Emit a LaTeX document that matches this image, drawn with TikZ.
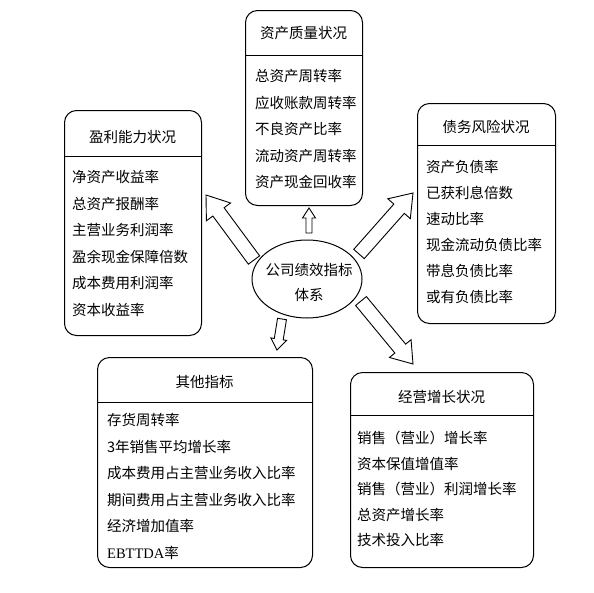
\documentclass[tikz,border=0pt]{standalone}
\usepackage{fontspec}
\setmainfont{Noto Sans CJK SC}
\newfontfamily\latinserif{Liberation Serif}
\usetikzlibrary{calc,shapes.geometric}
\newcommand\blockarrow[5]{%
  \coordinate (hb) at ($(#2)!#5!(#1)$);
  \draw[barrow] ($(#1)!#3!90:(#2)$) -- ($(hb)!#3!90:(#2)$) -- ($(hb)!#4!90:(#2)$) -- (#2)
    -- ($(hb)!#4!-90:(#2)$) -- ($(hb)!#3!-90:(#2)$) -- ($(#1)!#3!-90:(#2)$) -- cycle;
}
\begin{document}
\begin{tikzpicture}[x=1pt,y=-1pt,
  box/.style={draw, line width=1pt, rounded corners=12pt, anchor=north west, inner sep=0pt},
  ttl/.style={font=\fontsize{14.5}{17}\selectfont, inner sep=0pt},
  item/.style={font=\fontsize{14.5}{17}\selectfont, anchor=west, inner sep=0pt},
  sepline/.style={line width=1pt},
  barrow/.style={draw, line width=0.9pt, fill=white, line join=miter}]
\useasboundingbox (0,0) rectangle (594,592);

% top box
\node[box, minimum width=117pt, minimum height=195pt] (zc) at (245,10) {};
\draw[sepline] (zc.west |- 0,55) -- (zc.east |- 0,55);
\node[ttl] (zct) at (303.5,33) {资产质量状况};
\foreach \t [count=\i] in {总资产周转率,应收账款周转率,不良资产比率,流动资产周转率,资产现金回收率}
  \node[item] (zc-\i) at (255,{76+(\i-1)*26.5}) {\t};

% left box
\node[box, minimum width=137pt, minimum height=225pt] (yl) at (64,110) {};
\draw[sepline] (yl.west |- 0,156) -- (yl.east |- 0,156);
\node[ttl] (ylt) at (132.5,137) {盈利能力状况};
\foreach \t [count=\i] in {净资产收益率,总资产报酬率,主营业务利润率,盈余现金保障倍数,成本费用利润率,资本收益率}
  \node[item] (yl-\i) at (72,{177+(\i-1)*26.6}) {\t};

% right box
\node[box, minimum width=138pt, minimum height=220pt] (zw) at (417,103) {};
\draw[sepline] (zw.west |- 0,145) -- (zw.east |- 0,145);
\node[ttl] (zwt) at (486,127) {债务风险状况};
\foreach \t [count=\i] in {资产负债率,已获利息倍数,速动比率,现金流动负债比率,带息负债比率,或有负债比率}
  \node[item] (zw-\i) at (426,{167+(\i-1)*26}) {\t};

% bottom left box
\node[box, minimum width=215pt, minimum height=210pt] (qt) at (97,357) {};
\draw[sepline] (qt.west |- 0,402) -- (qt.east |- 0,402);
\node[ttl] (qtt) at (204.5,382) {其他指标};
\foreach \t [count=\i] in {存货周转率,3年销售平均增长率,成本费用占主营业务收入比率,期间费用占主营业务收入比率,经济增加值率,{{\latinserif EBTTDA}率}}
  \node[item] (qt-\i) at (107,{420+(\i-1)*26.5}) {\t};

% bottom right box
\node[box, minimum width=183pt, minimum height=195pt] (jy) at (350,372) {};
\draw[sepline] (jy.west |- 0,415) -- (jy.east |- 0,415);
\node[ttl] (jyt) at (441.5,397) {经营增长状况};
\foreach \t [count=\i] in {销售（营业）增长率,资本保值增值率,销售（营业）利润增长率,总资产增长率,技术投入比率}
  \node[item] (jy-\i) at (357,{438+(\i-1)*25.5}) {\t};

% centre ellipse
\node[draw, ellipse, line width=1pt, minimum width=110pt, minimum height=78pt, inner sep=0pt] (core) at (307,279) {};
\node[ttl] (core1) at (309,270) {公司绩效指标};
\node[ttl] (core2) at (309,295) {体系};

% arrows
\coordinate (a1s) at (309,233); \coordinate (a1t) at (309,208);
\coordinate (a2s) at (254,260); \coordinate (a2t) at (206,195);
\coordinate (a3s) at (359,254); \coordinate (a3t) at (413,193);
\coordinate (a4s) at (282,319); \coordinate (a4t) at (277,350);
\coordinate (a5s) at (361,301); \coordinate (a5t) at (413,364);
\blockarrow{a1s}{a1t}{3pt}{6.5pt}{10pt}
\blockarrow{a2s}{a2t}{7pt}{15pt}{21pt}
\blockarrow{a3s}{a3t}{7pt}{15pt}{21pt}
\blockarrow{a4s}{a4t}{4.5pt}{8pt}{11pt}
\blockarrow{a5s}{a5t}{7pt}{14pt}{20pt}
\end{tikzpicture}
\end{document}
